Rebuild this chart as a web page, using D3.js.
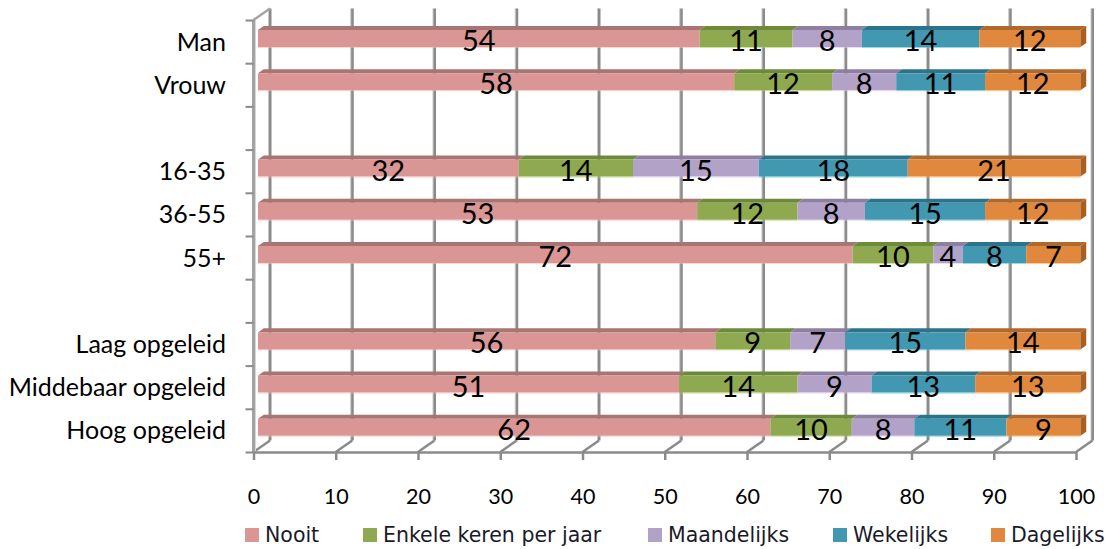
<!DOCTYPE html>
<html>
<head>
<meta charset="utf-8">
<script src="https://cdn.jsdelivr.net/npm/d3@7"></script>
<style>
  html, body { margin: 0; padding: 0; background: #ffffff; }
  svg { display: block; }
</style>
</head>
<body>
<svg id="chart" width="1113" height="549"></svg>
<script>
// ---------------- DATA ----------------
const rowLabels = ["Man", "Vrouw", "", "16-35", "36-55", "55+", "", "Laag opgeleid", "Middebaar opgeleid", "Hoog opgeleid"];
const seriesNames = ["Nooit", "Enkele keren per jaar", "Maandelijks", "Wekelijks", "Dagelijks"];
const nooit       = [53.7, 57.9, null, 31.7, 53.4, 72.3, null, 55.6, 51.2, 62.3];
const enkele      = [11.3, 11.9, null, 13.9, 12.2,  9.8, null,  9.1, 14.4,  9.9];
const maandelijks = [ 8.4,  7.8, null, 15.3,  8.2,  3.6, null,  6.7,  9.0,  7.6];
const wekelijks   = [14.3, 10.8, null, 18.1, 14.6,  7.7, null, 14.6, 12.6, 11.2];
const dagelijks   = [12.3, 11.6, null, 21.0, 11.6,  6.6, null, 14.0, 12.8,  9.0];
const xTickValues = [0, 10, 20, 30, 40, 50, 60, 70, 80, 90, 100];

const seriesValues = [nooit, enkele, maandelijks, wekelijks, dagelijks];
const frontColors = ["#DA9694", "#8EA94F", "#B3A2C7", "#4298B0", "#E0883E"];
const topColors   = ["#A87572", "#6D8A3A", "#8D7FA2", "#2C7489", "#B0692C"];
const endColor    = "#A85F22";

// ---------------- LAYOUT ----------------
const svg = d3.select("#chart");
const DX = 16.5, DY = -11.5;        // depth vector (front -> back)
const F1 = 0.27, F2 = 0.62;         // bar front / back depth fractions
const yTop = 20, yFloor = 452;

const x = d3.scaleLinear().domain([0, 100]).range([253.5, 1076]);
const band = d3.scaleBand().domain(d3.range(rowLabels.length)).range([yTop, yFloor]);
const slotScale = d3.scaleLinear().domain([0, rowLabels.length]).range([yTop, yFloor]);
const barH = 17;

const P = (px, py, d) => [px + DX * d, py + DY * d];
const poly = pts => "M" + pts.map(p => p.join(",")).join("L") + "Z";

const gridColor = "#8a8a8a";
const gridLight = "#c9c9c9";

// ---- back wall gridlines ----
const grid = svg.append("g");
xTickValues.forEach(v => {
  const bx = x(v) + DX;
  grid.append("line").attr("x1", bx).attr("x2", bx)
    .attr("y1", yTop + DY).attr("y2", yFloor + DY)
    .attr("stroke", gridColor).attr("stroke-width", 3);
  grid.append("line").attr("x1", bx - 1.5).attr("x2", bx - 1.5)
    .attr("y1", yTop + DY).attr("y2", yFloor + DY)
    .attr("stroke", gridLight).attr("stroke-width", 1);
  // floor diagonals
  grid.append("line").attr("x1", x(v)).attr("y1", yFloor)
    .attr("x2", bx).attr("y2", yFloor + DY)
    .attr("stroke", gridColor).attr("stroke-width", 2.5);
});

// ---- left wall ----
grid.append("line").attr("x1", x(0)).attr("x2", x(0))
  .attr("y1", yTop).attr("y2", yFloor)
  .attr("stroke", "#a3a3a3").attr("stroke-width", 3);
grid.append("line").attr("x1", x(0) + 2).attr("x2", x(0) + 2)
  .attr("y1", yTop).attr("y2", yFloor)
  .attr("stroke", "#d6d6d6").attr("stroke-width", 1);
grid.append("line").attr("x1", x(0)).attr("y1", yTop)
  .attr("x2", x(0) + DX).attr("y2", yTop + DY)
  .attr("stroke", "#a3a3a3").attr("stroke-width", 2.5);

// ---- floor front edge + x axis ----
const xAxis = d3.axisBottom(x).tickValues(xTickValues).tickSize(8).tickSizeOuter(0).tickPadding(0);
const gx = svg.append("g").attr("transform", `translate(0,${yFloor})`).call(xAxis);
gx.select(".domain").attr("stroke", gridColor).attr("stroke-width", 2.5);
gx.selectAll(".tick line").attr("stroke", gridColor).attr("stroke-width", 2.5);
gx.selectAll(".tick text")
  .attr("y", 52).attr("dy", 0)
  .attr("fill", "#000")
  .style("font-family", "Lato, 'Open Sans', sans-serif")
  .style("font-size", "21.5px");

// ---- y axis ticks (slot boundaries) ----
const yAxis = d3.axisLeft(slotScale).tickValues(d3.range(rowLabels.length + 1))
  .tickFormat("").tickSize(8).tickSizeOuter(0);
const gy = svg.append("g").attr("transform", `translate(${x(0)},0)`).call(yAxis);
gy.select(".domain").remove();
gy.selectAll(".tick line").attr("stroke", gridColor).attr("stroke-width", 2);

// ---- category labels ----
svg.append("g").selectAll("text")
  .data(rowLabels.map((l, i) => ({ l, i })).filter(d => d.l))
  .join("text")
  .attr("x", 226)
  .attr("y", d => band(d.i) + band.bandwidth() / 2 + 9)
  .attr("text-anchor", "end")
  .attr("fill", "#000")
  .style("font-family", "Lato, 'Open Sans', sans-serif")
  .style("font-size", "25px")
  .text(d => d.l);

// ---- bars ----
const bars = svg.append("g");
const fmt = d3.format(".0f");
rowLabels.forEach((lab, i) => {
  if (nooit[i] == null) return;
  const yc = band(i) + band.bandwidth() / 2;
  const yt = yc - barH / 2, yb = yc + barH / 2;
  let cum = 0;
  const segs = seriesValues.map((arr, s) => {
    const v0 = cum; cum += arr[i];
    return { s, v0, v1: cum, val: arr[i] };
  });
  segs.forEach(seg => {
    const x0 = x(seg.v0), x1 = x(seg.v1);
    bars.append("path")
      .attr("d", poly([P(x0, yt, F1), P(x1, yt, F1), P(x1, yt, F2), P(x0, yt, F2)]))
      .attr("fill", topColors[seg.s]);
    bars.append("path")
      .attr("d", poly([P(x0, yt, F1), P(x1, yt, F1), P(x1, yb, F1), P(x0, yb, F1)]))
      .attr("fill", frontColors[seg.s]);
    bars.append("line")
      .attr("x1", P(x0, yb, F1)[0]).attr("x2", P(x1, yb, F1)[0])
      .attr("y1", P(x0, yb, F1)[1] + 0.5).attr("y2", P(x1, yb, F1)[1] + 0.5)
      .attr("stroke", d3.color(frontColors[seg.s]).brighter(0.6)).attr("stroke-width", 1).attr("opacity", 0.6);
  });
  const last = segs[segs.length - 1];
  const xe = x(last.v1);
  bars.append("path")
    .attr("d", poly([P(xe, yt, F1), P(xe, yt, F2), P(xe, yb, F2), P(xe, yb, F1)]))
    .attr("fill", endColor);
  segs.forEach(seg => {
    const cx = (P(x(seg.v0), 0, F1)[0] + P(x(seg.v1), 0, F1)[0]) / 2;
    bars.append("text")
      .attr("x", cx)
      .attr("y", yc + DY * F1 + 12.5)
      .attr("text-anchor", "middle")
      .attr("fill", "#000")
      .style("font-family", "Lato, 'Open Sans', sans-serif")
      .style("font-size", "29px")
      .text(fmt(seg.val));
  });
});

// ---- legend ----
const legend = svg.append("g");
const legendX = [245, 363, 648, 833, 991];
seriesNames.forEach((name, s) => {
  const lx = legendX[s];
  legend.append("rect")
    .attr("x", lx).attr("y", 528).attr("width", 14).attr("height", 14)
    .attr("fill", frontColors[s]);
  legend.append("text")
    .attr("x", lx + 20).attr("y", 542)
    .attr("fill", "#1a1a2a")
    .style("font-family", "'DejaVu Sans', sans-serif")
    .style("font-size", "20.5px")
    .text(name);
});
</script>
</body>
</html>
